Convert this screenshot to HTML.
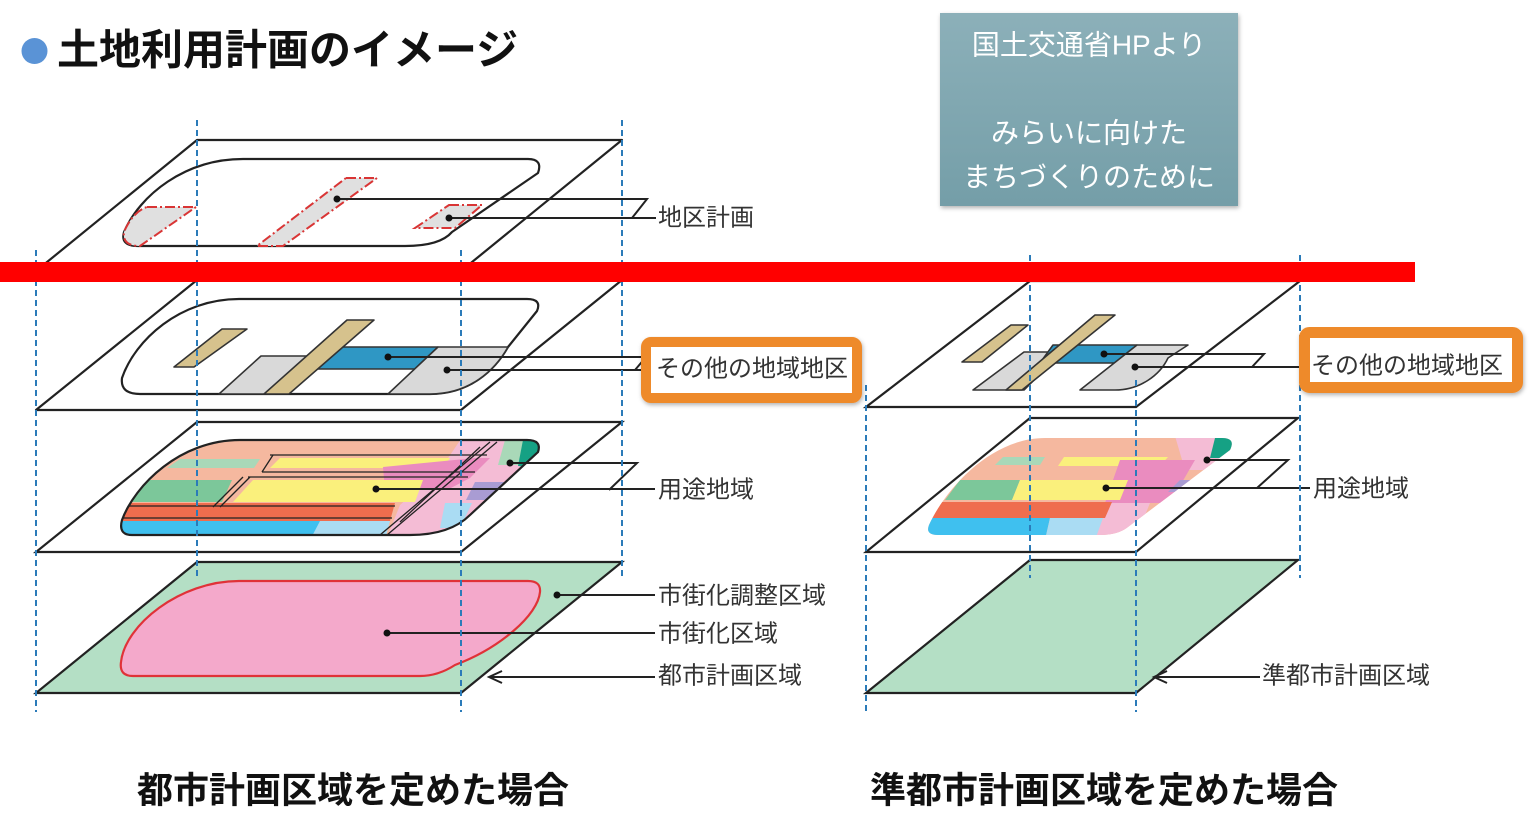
<!DOCTYPE html>
<html><head><meta charset="utf-8">
<style>
html,body{margin:0;padding:0;background:#fff;}
body{width:1536px;height:840px;overflow:hidden;position:relative;}
svg{position:absolute;left:0;top:0;}
.lbl{font-family:"Liberation Sans","Noto Sans CJK JP",sans-serif;font-size:24px;fill:#333;dominant-baseline:central;}
</style></head><body>
<svg width="1536" height="840" viewBox="0 0 1536 840" xmlns="http://www.w3.org/2000/svg">
<defs>
 <linearGradient id="gb" x1="0" y1="0" x2="0" y2="1"><stop offset="0" stop-color="#8cb0b9"/><stop offset="1" stop-color="#749ea8"/></linearGradient>
 <clipPath id="c3l"><path d="M240,440 L527,440 Q542,440 538,452 L470,515 Q450,535 410,535 L132,535 Q118,535 122,520 C135,485 180,440 240,440 Z"/></clipPath>
 <clipPath id="c3r"><path d="M1045,438 L1222,438 Q1236,438 1230,450 L1128,527 Q1118,535 1100,535 L938,535 Q925,535 929,525 C945,490 990,438 1045,438 Z"/></clipPath>
 <filter id="sh" x="-10%" y="-10%" width="130%" height="130%"><feDropShadow dx="1" dy="2" stdDeviation="2" flood-color="#000" flood-opacity="0.3"/></filter>
</defs>

<!-- Title -->
<circle cx="34.5" cy="51" r="13" fill="#5a93d6"/>
<text x="57" y="50" style="font-family:'Liberation Sans','Noto Sans CJK JP',sans-serif;font-size:42px;font-weight:bold;fill:#111;dominant-baseline:central;">土地利用計画のイメージ</text>

<!-- Gray box -->
<rect x="940" y="13" width="298" height="193" fill="url(#gb)" filter="url(#sh)"/>
<g style="font-family:'Liberation Sans','Noto Sans CJK JP',sans-serif;font-size:28px;fill:#fff;dominant-baseline:central;" text-anchor="middle">
 <text x="1089" y="45">国土交通省HPより</text>
 <text x="1089" y="133">みらいに向けた</text>
 <text x="1089" y="177">まちづくりのために</text>
</g>

<!-- ============ LEFT DIAGRAM ============ -->
<g stroke="#222" stroke-width="2.2" fill="#fff" stroke-linejoin="round">
 <path d="M197,140 L622,140 L461,271 L36,271 Z"/>
 <path d="M243,159 L528,159 Q543,159 538,173 L452,232 Q440,246 405,246 L138,246 Q120,246 124,232 C140,195 185,159 243,159 Z"/>
</g>
<g fill="#e0e0e0" stroke="#d93535" stroke-width="2" stroke-dasharray="10 3 2 3">
 <path d="M147,207 L196,207 L140,246 Q122,246 124,232 C130,218 138,210 147,207 Z"/>
 <path d="M346,178 L377,178 L283,246 L257,246 Z"/>
 <path d="M449,205 L482,205 L455,228 L415,228 Z"/>
</g>
<g stroke="#222" stroke-width="2" fill="none">
 <path d="M337,199 H647 L632,218"/>
 <path d="M449,218 H656"/>
</g>
<circle cx="337" cy="199" r="3.5" fill="#111"/>
<circle cx="449" cy="218" r="3.5" fill="#111"/>

<!-- Layer 2 -->
<g stroke="#222" stroke-width="2.2" fill="#fff" stroke-linejoin="round">
 <path d="M197,280 L622,280 L461,410 L36,410 Z"/>
 <path d="M239,299 L527,299 Q542,299 537,311 L508,347 C495,370 470,394 430,394 L140,394 Q120,394 122,378 C135,340 180,299 239,299 Z"/>
</g>
<g stroke="#333" stroke-width="1.6" stroke-linejoin="round">
 <path d="M261,356 L312,356 L274,394 L219,394 Z" fill="#d9d9d9"/>
 <path d="M335,347 L438,347 L415,369 L318,369 Z" fill="#2f97c4"/>
 <path d="M438,347 L508,347 C495,370 470,394 430,394 L388,394 Z" fill="#d9d9d9"/>
 <path d="M347,320 L374,320 L289,394 L264,394 Z" fill="#d6c28d"/>
 <path d="M222,329 L247,329 L194,367 L174,367 Z" fill="#d6c28d"/>
</g>
<g stroke="#222" stroke-width="2" fill="none">
 <path d="M388,357 H646 L635,370"/>
 <path d="M447,370 H655"/>
</g>
<circle cx="388" cy="357" r="3.5" fill="#111"/>
<circle cx="447" cy="370" r="3.5" fill="#111"/>

<!-- Layer 3 -->
<path d="M197,422 L622,422 L461,552 L36,552 Z" fill="#fff" stroke="#222" stroke-width="2.2"/>
<g clip-path="url(#c3l)">
 <rect x="100" y="430" width="460" height="120" fill="#f5b89f"/>
 <polygon points="463,436 560,436 560,540 386,540 400,505 440,470" fill="#f4bcd5"/>
 <polygon points="180,459 260,459 254,468 167,468" fill="#a9d8b8"/>
 <polygon points="280,458 450,458 443,468 270,468" fill="#faf07c"/>
 <polygon points="383,467 475,458 490,458 470,478 447,490 385,490" fill="#ea8cbf"/>
 <polygon points="110,480 232,480 222,502 110,502" fill="#7cc79a"/>
 <polygon points="253,480 423,480 415,502 233,502" fill="#faf07c"/>
 <polygon points="475,482 505,482 490,500 466,500" fill="#a99cd3"/>
 <polygon points="445,503 472,503 460,528 440,528" fill="#aadcf3"/>
 <polygon points="110,503 395,503 390,521 110,521" fill="#ef6d4e"/>
 <polygon points="110,521 325,521 318,540 110,540" fill="#3fc0ef"/>
 <polygon points="320,521 390,521 385,540 310,540" fill="#aadcf3"/>
 <polygon points="505,440 525,440 518,465 498,465" fill="#a9d8b8"/>
 <polygon points="523,440 560,440 560,470 518,466" fill="#15a184"/>
 <g stroke="#222" stroke-width="1.3" fill="none">
  <path d="M270,455 L487,455"/>
  <path d="M262,472 L475,472"/>
  <path d="M248,477 L468,477"/>
  <path d="M110,506 L395,506"/>
  <path d="M110,518 L392,518"/>
  <path d="M273,455 L262,472"/>
  <path d="M250,477 L220,507"/>
  <path d="M243,477 L213,507"/>
  <path d="M497,442 L387,535"/>
  <path d="M490,442 L380,535"/>
  <path d="M480,447 L400,522"/>
 </g>
</g>
<path d="M240,440 L527,440 Q542,440 538,452 L470,515 Q450,535 410,535 L132,535 Q118,535 122,520 C135,485 180,440 240,440 Z" fill="none" stroke="#222" stroke-width="2.2"/>
<g stroke="#222" stroke-width="2" fill="none">
 <path d="M510,463 H637 L609,490"/>
 <path d="M376,489 H655"/>
</g>
<circle cx="510" cy="463" r="3.5" fill="#111"/>
<circle cx="376" cy="489" r="3.5" fill="#111"/>

<!-- Layer 4 -->
<path d="M197,562 L622,562 L461,693 L36,693 Z" fill="#b4dfc5" stroke="#222" stroke-width="2.2"/>
<path d="M239,581 L528,581 Q541,581 540,592 C538,615 500,648 455,665 Q438,676 420,676 L133,676 Q119,676 121,662 C125,625 180,581 239,581 Z" fill="#f4a9cb" stroke="#e03238" stroke-width="2.2"/>
<g stroke="#222" stroke-width="2" fill="none">
 <path d="M557,595 H655"/>
 <path d="M387,633 H655"/>
 <path d="M489,677 H655"/>
 <path d="M502,671 L489,677 L502,683"/>
</g>
<circle cx="557" cy="595" r="3.5" fill="#111"/>
<circle cx="387" cy="633" r="3.5" fill="#111"/>

<!-- Left dashed verticals -->
<g stroke="#2b7bb9" stroke-width="2" stroke-dasharray="6 4">
 <line x1="36" y1="250" x2="36" y2="712"/>
 <line x1="197" y1="120" x2="197" y2="580"/>
 <line x1="461" y1="250" x2="461" y2="712"/>
 <line x1="622" y1="120" x2="622" y2="580"/>
</g>

<!-- ============ RIGHT DIAGRAM ============ -->
<path d="M1030,281 L1300,281 L1136,407 L866,407 Z" fill="#fff" stroke="#222" stroke-width="2.2"/>
<g stroke="#333" stroke-width="1.6" stroke-linejoin="round">
 <path d="M1024,352 L1062,352 L1024,390 L973,390 Z" fill="#d9d9d9"/>
 <path d="M1053,345 L1137,345 L1115,363 L1040,363 Z" fill="#2f97c4"/>
 <path d="M1137,345 L1188,345 L1168,358 C1160,375 1140,390 1115,390 L1080,390 Z" fill="#d9d9d9"/>
 <path d="M1095,315 L1115,315 L1022,390 L1006,390 Z" fill="#d6c28d"/>
 <path d="M1011,325 L1028,325 L982,362 L962,362 Z" fill="#d6c28d"/>
</g>
<g stroke="#222" stroke-width="2" fill="none">
 <path d="M1104,354 H1264 L1252,367"/>
 <path d="M1135,367 H1303"/>
</g>
<circle cx="1104" cy="354" r="3.5" fill="#111"/>
<circle cx="1135" cy="367" r="3.5" fill="#111"/>

<path d="M1030,418 L1298,418 L1136,552 L866,552 Z" fill="#fff" stroke="#222" stroke-width="2.2"/>
<g clip-path="url(#c3r)">
 <rect x="910" y="430" width="340" height="115" fill="#f5b89f"/>
 <polygon points="1003,457 1045,457 1040,465 995,465" fill="#a9d8b8"/>
 <polygon points="1064,457 1168,457 1160,466 1058,466" fill="#faf07c"/>
 <polygon points="1175,436 1245,436 1245,470 1185,470" fill="#f4bcd5"/>
 <polygon points="1120,460 1195,460 1170,503 1105,503" fill="#ea8cbf"/>
 <polygon points="1095,503 1150,503 1135,540 1085,540" fill="#f4bcd5"/>
 <polygon points="960,480 1020,480 1012,500 945,500" fill="#7cc79a"/>
 <polygon points="1020,480 1128,480 1120,500 1012,500" fill="#faf07c"/>
 <polygon points="1180,480 1207,480 1195,492 1168,492" fill="#a99cd3"/>
 <polygon points="915,502 1112,502 1105,518 915,518" fill="#ef6d4e"/>
 <polygon points="915,518 1050,518 1045,540 915,540" fill="#3fc0ef"/>
 <polygon points="1050,518 1103,518 1095,540 1045,540" fill="#aadcf3"/>
 <polygon points="1215,438 1245,438 1245,458 1210,458" fill="#15a184"/>
</g>
<g stroke="#222" stroke-width="2" fill="none">
 <path d="M1207,460 H1288 L1257,488"/>
 <path d="M1106,488 H1310"/>
</g>
<circle cx="1207" cy="460" r="3.5" fill="#111"/>
<circle cx="1106" cy="488" r="3.5" fill="#111"/>

<path d="M1030,560 L1298,560 L1136,693 L866,693 Z" fill="#b4dfc5" stroke="#222" stroke-width="2.2"/>
<g stroke="#222" stroke-width="2" fill="none">
 <path d="M1154,677 H1260"/>
 <path d="M1167,671 L1154,677 L1167,683"/>
</g>

<g stroke="#2b7bb9" stroke-width="2" stroke-dasharray="6 4">
 <line x1="866" y1="385" x2="866" y2="712"/>
 <line x1="1030" y1="255" x2="1030" y2="578"/>
 <line x1="1136" y1="380" x2="1136" y2="712"/>
 <line x1="1300" y1="255" x2="1300" y2="578"/>
</g>

<!-- Red bar -->
<rect x="0" y="262" width="1415" height="20" fill="#ff0000"/>

<!-- Orange boxes -->
<rect x="646" y="342" width="211" height="56" rx="5" fill="#fff" stroke="#ee8a2c" stroke-width="10" filter="url(#sh)"/>
<rect x="1304.5" y="332.5" width="213" height="55" rx="5" fill="#fff" stroke="#ee8a2c" stroke-width="11" filter="url(#sh)"/>

<!-- Labels -->
<text class="lbl" x="658" y="218">地区計画</text>
<text class="lbl" x="656" y="369">その他の地域地区</text>
<text class="lbl" x="658" y="490">用途地域</text>
<text class="lbl" x="658" y="596">市街化調整区域</text>
<text class="lbl" x="658" y="634">市街化区域</text>
<text class="lbl" x="658" y="676">都市計画区域</text>
<text class="lbl" x="1311" y="366">その他の地域地区</text>
<text class="lbl" x="1313" y="489">用途地域</text>
<text class="lbl" x="1262" y="676">準都市計画区域</text>

<!-- Captions -->
<g style="font-family:'Liberation Sans','Noto Sans CJK JP',sans-serif;font-size:36px;font-weight:bold;fill:#111;dominant-baseline:central;">
 <text x="137" y="790">都市計画区域を定めた場合</text>
 <text x="870" y="790">準都市計画区域を定めた場合</text>
</g>
</svg>
</body></html>
